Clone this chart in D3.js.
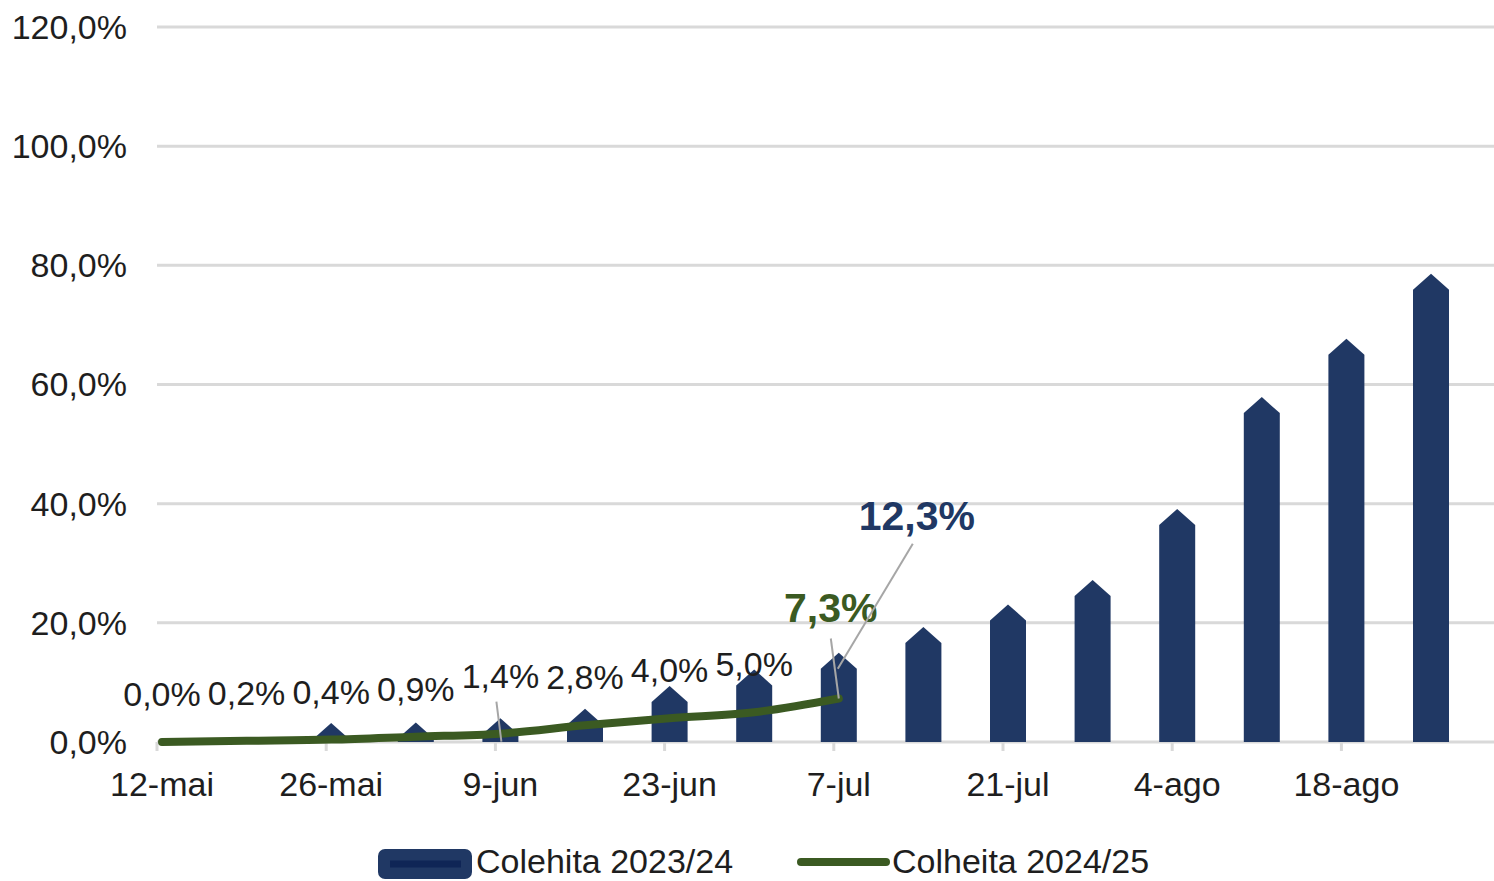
<!DOCTYPE html>
<html>
<head>
<meta charset="utf-8">
<script src="https://cdn.jsdelivr.net/npm/d3@7"></script>
<style>
  html, body { margin: 0; padding: 0; background: #ffffff; }
  svg { display: block; }
  text { font-family: "Liberation Sans", Arial, sans-serif; }
</style>
</head>
<body>
<svg id="chart" width="1494" height="881"></svg>
<script>
// ---- data ----
const categories = ["12-mai","19-mai","26-mai","2-jun","9-jun","16-jun","23-jun","30-jun","7-jul","14-jul","21-jul","28-jul","4-ago","11-ago","18-ago","25-ago"];
const tickLabels = ["12-mai","26-mai","9-jun","23-jun","7-jul","21-jul","4-ago","18-ago"];
const colheita2324 = [0, 0, 0.5, 0.6, 1.3, 2.9, 6.7, 9.5, 12.3, 16.6, 20.4, 24.5, 36.4, 55.2, 65.0, 75.9];
const colheita2425 = [0.0, 0.2, 0.4, 0.9, 1.4, 2.8, 4.0, 5.0, 7.3];
const yTicks = [0, 20, 40, 60, 80, 100, 120];
const seriesNames = ["Colehita 2023/24", "Colheita 2024/25"];

// ---- styles ----
const navy = "#203864";
const navyDark = "#0f2556";
const green = "#3b5a22";
const gridColor = "#d9d9d9";
const textColor = "#1e1e1e";
const leaderColor = "#a6a6a6";
const fmt = v => d3.format(".1f")(v).replace(".", ",") + "%";

const svg = d3.select("#chart");
const x = d3.scalePoint().domain(categories).range([162, 1431]);
const y = d3.scaleLinear().domain([0, 120]).range([742, 27]);
const plotLeft = 157, plotRight = 1494;

// gridlines
svg.append("g").selectAll("line").data(yTicks).join("line")
  .attr("x1", plotLeft).attr("x2", plotRight)
  .attr("y1", d => y(d)).attr("y2", d => y(d))
  .attr("stroke", gridColor).attr("stroke-width", 3);

// y axis labels
svg.append("g").selectAll("text").data(yTicks).join("text")
  .attr("x", 127).attr("y", d => y(d)).attr("dy", "0.35em")
  .attr("text-anchor", "end").attr("font-size", 34).attr("fill", textColor)
  .text(d => fmt(d));

// x axis ticks and labels
const xt = svg.append("g");
xt.selectAll("line").data(tickLabels).join("line")
  .attr("x1", d => x(d) - 5).attr("x2", d => x(d) - 5)
  .attr("y1", 742).attr("y2", 751)
  .attr("stroke", gridColor).attr("stroke-width", 3);
xt.selectAll("text").data(tickLabels).join("text")
  .attr("x", d => x(d)).attr("y", 796)
  .attr("text-anchor", "middle").attr("font-size", 34).attr("fill", textColor)
  .text(d => d);

// bars (pentagon / arrow columns)
const barW = 36, roof = 16;
const barPath = (cat, v) => {
  const cx = x(cat), y0 = y(0), ys = y(v);
  return `M${cx - barW/2},${y0} L${cx - barW/2},${ys} L${cx},${ys - roof} L${cx + barW/2},${ys} L${cx + barW/2},${y0} Z`;
};
svg.append("g").selectAll("path")
  .data(categories.map((c, i) => ({c, v: colheita2324[i]})).filter(d => d.v > 0))
  .join("path")
  .attr("d", d => barPath(d.c, d.v))
  .attr("fill", navy);

// line 2024/25
const lineData = colheita2425.map((v, i) => ({c: categories[i], v}));
svg.append("path")
  .datum(lineData)
  .attr("d", d3.line().x(d => x(d.c)).y(d => y(d.v)).curve(d3.curveMonotoneX))
  .attr("fill", "none").attr("stroke", green).attr("stroke-width", 8)
  .attr("stroke-linecap", "round").attr("stroke-linejoin", "round");

// line data labels (except last, which is a callout)
const labelData = lineData.slice(0, -1);
const lg = svg.append("g");
// leader for 1,4%
const iLead = 4;
lg.append("line")
  .attr("x1", x(categories[iLead]) - 4).attr("y1", y(colheita2425[iLead]) - 32)
  .attr("x2", x(categories[iLead]) + 1).attr("y2", y(colheita2425[iLead]) + 8)
  .attr("stroke", leaderColor).attr("stroke-width", 2);
lg.selectAll("text").data(labelData).join("text")
  .attr("x", d => x(d.c))
  .attr("y", (d, i) => y(d.v) - (i === iLead ? 46 : 36))
  .attr("text-anchor", "middle").attr("font-size", 34).attr("fill", textColor)
  .text(d => fmt(d.v));

// callouts for last values at 7-jul
const lastIdx = colheita2425.length - 1;
const cx7 = x(categories[lastIdx]);
// 7,3% leader
svg.append("line")
  .attr("x1", cx7 - 8).attr("y1", y(colheita2425[lastIdx]) - 60)
  .attr("x2", cx7).attr("y2", y(colheita2425[lastIdx]))
  .attr("stroke", leaderColor).attr("stroke-width", 2);
svg.append("text")
  .attr("x", cx7 - 8).attr("y", y(colheita2425[lastIdx]) - 77)
  .attr("text-anchor", "middle").attr("font-size", 41).attr("font-weight", "bold")
  .attr("fill", green).text(fmt(colheita2425[lastIdx]));
// 12,3% leader
svg.append("line")
  .attr("x1", cx7 + 74).attr("y1", y(colheita2324[lastIdx]) - 125)
  .attr("x2", cx7 - 1).attr("y2", y(colheita2324[lastIdx]))
  .attr("stroke", leaderColor).attr("stroke-width", 2);
svg.append("text")
  .attr("x", cx7 + 78).attr("y", y(colheita2324[lastIdx]) - 139)
  .attr("text-anchor", "middle").attr("font-size", 41).attr("font-weight", "bold")
  .attr("fill", navy).text(fmt(colheita2324[lastIdx]));

// legend
const leg = svg.append("g");
leg.append("rect").attr("x", 378).attr("y", 849).attr("width", 94).attr("height", 30)
  .attr("rx", 7).attr("fill", navy);
leg.append("line").attr("x1", 390).attr("x2", 461).attr("y1", 864).attr("y2", 864)
  .attr("stroke", navyDark).attr("stroke-width", 7);
leg.append("text").attr("x", 476).attr("y", 873).attr("font-size", 34)
  .attr("fill", textColor).text(seriesNames[0]);
leg.append("line").attr("x1", 801).attr("x2", 886).attr("y1", 862).attr("y2", 862)
  .attr("stroke", green).attr("stroke-width", 8).attr("stroke-linecap", "round");
leg.append("text").attr("x", 892).attr("y", 873).attr("font-size", 34)
  .attr("fill", textColor).text(seriesNames[1]);
</script>
</body>
</html>
